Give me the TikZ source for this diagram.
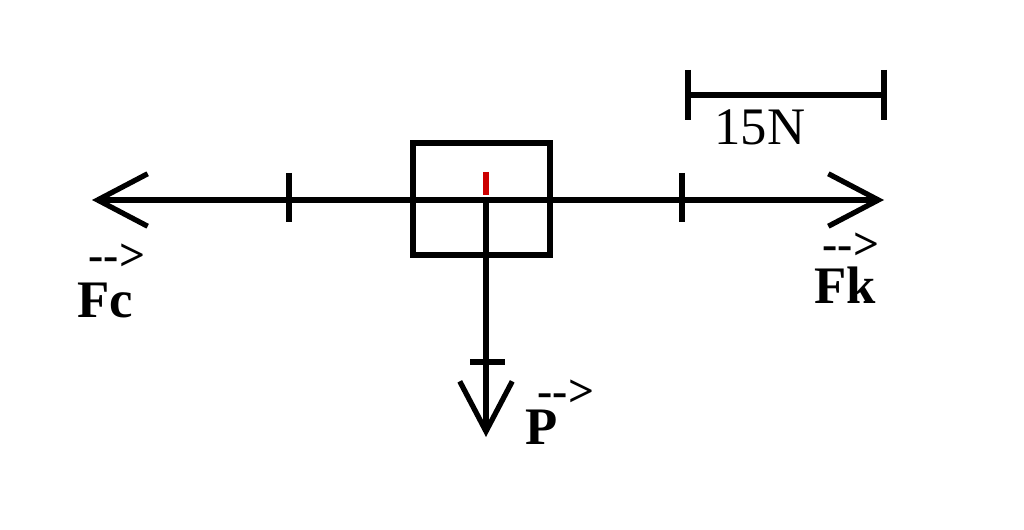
\documentclass[tikz,border=0pt]{standalone}
\usepackage{fontspec}
\setmainfont{Liberation Serif}
\usetikzlibrary{arrows.meta}
\begin{document}
\begin{tikzpicture}[x=0.02cm,y=-0.02cm,
  ln/.style={line width=3pt},
  tip/.style={-{Straight Barb[length=1cm,width=1.05cm,line width=3pt]}},
  lbl/.style={font=\fontsize{30}{30}\selectfont\bfseries, inner sep=0pt},
  vec/.style={font=\fontsize{26}{26}\selectfont\bfseries, inner sep=0pt}]
\useasboundingbox (0,0) rectangle (1024,530);
\coordinate (c) at (486,200);
\coordinate (l) at (92,200);
\coordinate (r) at (884,200);
\coordinate (d) at (486,437);
\draw[ln,tip] (c) -- (l);
\draw[ln,tip] (c) -- (r);
\draw[ln,tip] (c) -- (d);
\node[draw,line width=3pt,inner sep=0pt,minimum width=2.74cm,minimum height=2.24cm] (box) at (481.5,199) {};
\draw[ln] (289,173) -- (289,222);
\draw[ln] (682,173) -- (682,222);
\draw[ln] (470,362) -- (505,362);
\draw[red!80!black,line width=3pt] (486,172) -- (486,195);
\coordinate (s1) at (688,95);
\coordinate (s2) at (884,95);
\draw[ln] (s1) -- (s2);
\draw[ln] (688,70) -- (688,120);
\draw[ln] (884,70) -- (884,120);
\node[lbl,font=\fontsize{30}{30}\selectfont] (n15) at (760,127) {15N};
\node[lbl] (fc) at (105,300) {Fc};
\node[vec] (fcv) at (117,257) {-{}-{}>};
\node[lbl] (fk) at (845,285) {Fk};
\node[vec] (fkv) at (851,246) {-{}-{}>};
\node[lbl] (p) at (542,427) {P};
\node[vec] (pv) at (566,393) {-{}-{}>};
\end{tikzpicture}
\end{document}
